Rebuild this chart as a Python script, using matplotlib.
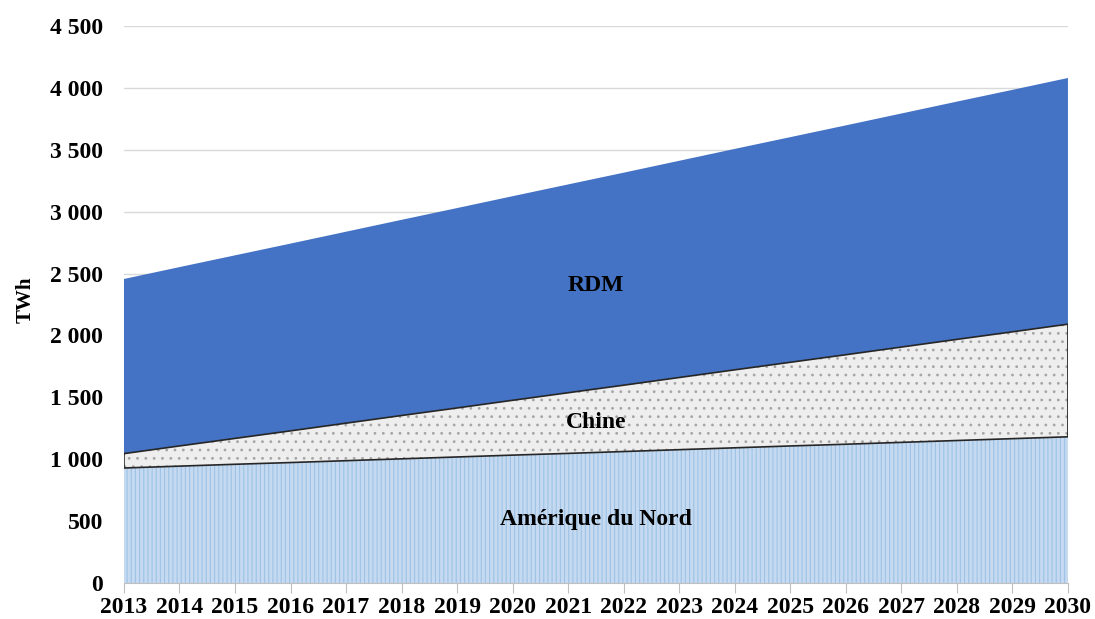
import matplotlib
matplotlib.use("Agg")
import matplotlib.pyplot as plt
import matplotlib.ticker as mtick
import numpy as np

plt.rcParams['font.family'] = ['Liberation Serif', 'DejaVu Serif']
plt.rcParams['font.weight'] = 'bold'
plt.rcParams['hatch.linewidth'] = 0.8

years = np.arange(2013, 2031)
# TWh
amerique_nord = [929, 944, 959, 973, 988, 1003, 1018, 1033, 1047, 1062,
                 1077, 1092, 1107, 1121, 1136, 1151, 1166, 1181]
chine = [116, 163, 209, 256, 303, 350, 396, 443, 490, 536,
         583, 630, 676, 723, 770, 817, 863, 910]
rdm = [1411, 1445, 1479, 1513, 1547, 1581, 1615, 1649, 1683, 1717,
       1751, 1785, 1819, 1853, 1887, 1921, 1955, 1989]

na = np.array(amerique_nord)
ch = na + np.array(chine)
tot = ch + np.array(rdm)

fig = plt.figure(figsize=(10.95, 6.19), dpi=100)
ax = fig.add_axes([0.1132, 0.0582, 0.8621, 0.8998])

ax.fill_between(years, 0, na, facecolor='#C5DAF0', edgecolor='#9DC3E6',
                hatch='||||', linewidth=0, zorder=2)
ax.fill_between(years, na, ch, facecolor='#EEEEEE', edgecolor='#A6A6A6',
                hatch='..', linewidth=0, zorder=2)
# outline of the Chine band
xs = np.concatenate([years, years[::-1], years[:1]])
ys = np.concatenate([ch, na[::-1], ch[:1]])
ax.plot(xs, ys, color='#262626', linewidth=1.2, zorder=3)
ax.fill_between(years, ch, tot, facecolor='#4472C4', edgecolor='none',
                linewidth=0, zorder=2)

ax.text(2021.5, 2400, 'RDM', ha='center', va='center', fontsize=17,
        fontweight='bold', zorder=4)
ax.text(2021.5, 1300, 'Chine', ha='center', va='center', fontsize=17,
        fontweight='bold', zorder=4)
ax.text(2021.5, 510, 'Amérique du Nord', ha='center', va='center',
        fontsize=17, fontweight='bold', zorder=4)

ax.set_xlim(2013, 2030)
ax.set_ylim(0, 4500)
ax.set_xticks(years)
ax.set_yticks(np.arange(0, 4501, 500))
ax.yaxis.set_major_formatter(mtick.FuncFormatter(
    lambda v, p: '{:,.0f}'.format(v).replace(',', ' ')))
ax.grid(axis='y', color='#D9D9D9', linewidth=1, zorder=0)
ax.set_axisbelow(True)

for s in ['top', 'right', 'left']:
    ax.spines[s].set_visible(False)
ax.spines['bottom'].set_color('#BFBFBF')
ax.spines['bottom'].set_zorder(5)
ax.tick_params(axis='x', length=7, color='#BFBFBF', labelsize=17, pad=3)
ax.tick_params(axis='y', length=0, labelsize=17, pad=15)
ax.set_ylabel('TWh', fontsize=15, fontweight='bold')
ax.yaxis.set_label_coords(-0.094, 0.508)

plt.savefig('out.png', dpi=100)
